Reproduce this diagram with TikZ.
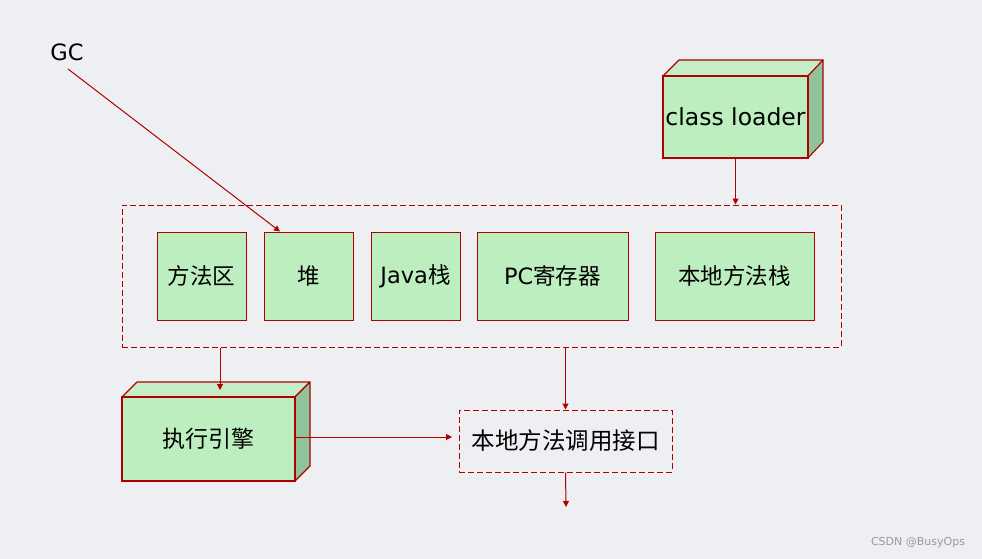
\documentclass[tikz,border=0pt]{standalone}
\usepackage{fontspec}
\setmainfont{DejaVu Sans}
\newfontfamily\cjk{Noto Sans CJK SC}
\usetikzlibrary{arrows.meta}
\definecolor{bg}{HTML}{EEEFF2}
\definecolor{dred}{HTML}{B00000}
\definecolor{lgreen}{HTML}{BDEEC0}
\definecolor{sgreen}{HTML}{8FC49A}
\definecolor{tgreen}{HTML}{C6EEC6}
\tikzset{
  x=1pt, y=-1pt,
  conn/.style={draw=dred, line width=1pt, -{Triangle[length=6pt,width=6pt]}},
  membox/.style={draw=dred, line width=1pt, fill=lgreen, minimum height=88pt, inner sep=0pt, font=\fontsize{22.5}{26}\selectfont},
  frontbox/.style={draw=dred, line width=1.1pt, fill=lgreen, inner sep=0pt, font=\fontsize{23}{26}\selectfont},
  dashbox/.style={draw=dred, line width=1pt, dash pattern=on 6pt off 3pt},
}
\begin{document}
\begin{tikzpicture}
\fill[bg] (0,0) rectangle (982,559);
\useasboundingbox (0,0) rectangle (982,559);

% GC
\node[font=\fontsize{22.5}{26}\selectfont, anchor=center] (gc) at (67,52) {GC};
\coordinate (gcs) at (68,69);

% outer dashed rect
\node[dashbox, minimum width=719pt, minimum height=142pt, inner sep=0pt] (rt) at (481.5,276) {};

% memory boxes
\node[membox, minimum width=89pt] (ma) at (201.5,276) {\cjk 方法区};
\node[membox, minimum width=89pt] (heap) at (308.5,276) {\cjk 堆};
\node[membox, minimum width=89pt] (js) at (415.5,276) {Java{\cjk 栈}};
\node[membox, minimum width=151pt] (pc) at (552.5,276) {PC{\cjk 寄存器}};
\node[membox, minimum width=159pt] (nms) at (734.5,276) {\cjk 本地方法栈};

% class loader 3D box
\fill[tgreen, draw=dred, line width=1.1pt, line join=round] (663,76) -- (679,60) -- (823,60) -- (808,76) -- cycle;
\fill[sgreen, draw=dred, line width=1.1pt, line join=round] (808,76) -- (823,60) -- (823,142) -- (808,158) -- cycle;
\node[frontbox, minimum width=145pt, minimum height=82pt, font=\fontsize{23.5}{27}\selectfont] (cl) at (735.5,117) {class loader};

% execution engine 3D box
\fill[tgreen, draw=dred, line width=1.1pt, line join=round] (122,397) -- (137,382) -- (310,382) -- (295,397) -- cycle;
\fill[sgreen, draw=dred, line width=1.1pt, line join=round] (295,397) -- (310,382) -- (310,466) -- (295,481) -- cycle;
\node[frontbox, minimum width=173pt, minimum height=84pt] (ee) at (208.5,439) {\cjk 执行引擎};

% native method interface
\node[dashbox, minimum width=213pt, minimum height=62pt, inner sep=0pt, font=\fontsize{23.5}{27}\selectfont] (nmi) at (565.5,441) {\cjk 本地方法调用接口};

% connectors
\draw[conn] (gcs) -- (heap.north -| 280,0);
\draw[conn] (cl.south) -- (rt.north -| cl.south);
\draw[conn] (rt.south -| 220,0) -- (220,390);
\draw[conn] (rt.south -| nmi.north) -- (nmi.north);
\draw[conn] (ee.east |- 0,437) -- (452,437);
\coordinate (out) at (566,507);
\draw[conn] (nmi.south) -- (out);

% watermark
\node[text=gray!80, font=\fontsize{11}{13}\selectfont] (wm) at (918,543) {CSDN @BusyOps};
\end{tikzpicture}
\end{document}
